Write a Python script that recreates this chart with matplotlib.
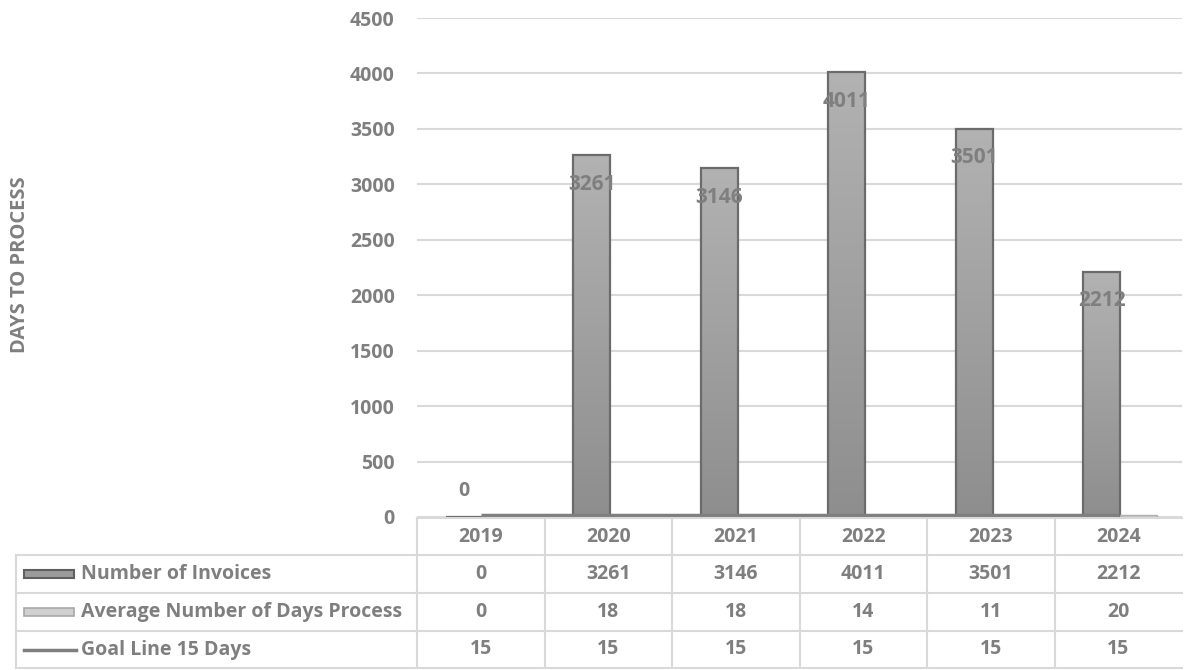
import numpy as np
import matplotlib
matplotlib.use('Agg')
import matplotlib.pyplot as plt
from matplotlib.patches import Rectangle
from matplotlib.lines import Line2D
from matplotlib.colors import LinearSegmentedColormap
import matplotlib.transforms as mtrans

plt.rcParams['font.family'] = ['Open Sans', 'DejaVu Sans']
plt.rcParams['font.weight'] = 'bold'

years = ['2019', '2020', '2021', '2022', '2023', '2024']
invoices = [0, 3261, 3146, 4011, 3501, 2212]
avg_days = [0, 18, 18, 14, 11, 20]
goal = [15, 15, 15, 15, 15, 15]
series_names = ['Number of Invoices', 'Average Number of Days Process', 'Goal Line 15 Days']

GRAY = '#7f7f7f'
GRID = '#d9d9d9'
W, H = 1187, 670
FS = 14

fig = plt.figure(figsize=(W / 100, H / 100), dpi=100)

def fx(px):
    return px / W

def fy(py):
    return 1 - py / H

ax_left, ax_right, ax_top, ax_bot = 417, 1182, 18, 517
ax = fig.add_axes([fx(ax_left), fy(ax_bot), fx(ax_right - ax_left), fy(ax_top) - fy(ax_bot)])
ax.set_yticks(range(0, 4501, 500))
ax.yaxis.grid(True, color=GRID, linewidth=1.5)
ax.set_axisbelow(True)
for s in ax.spines.values():
    s.set_visible(False)
ax.tick_params(axis='y', length=0, pad=16, labelsize=FS, labelcolor=GRAY)
ax.tick_params(axis='x', length=0, labelbottom=False)
for lab in ax.get_yticklabels():
    lab.set_fontweight('bold')

x = np.arange(len(years))
bw = 0.29
x1 = x - 0.275 + bw / 2
x2 = x + 0.015 + bw / 2

# gradient fill for the invoice bars
grad = np.linspace(0, 1, 256).reshape(-1, 1)
cmap = LinearSegmentedColormap.from_list('g', ['#8e8e8e', '#b2b2b2'])
bars1 = ax.bar(x1, invoices, width=bw, color='none', edgecolor='#6b6b6b', linewidth=1.6, zorder=3)
for b in bars1:
    if b.get_height() <= 0:
        continue
    bx, by = b.get_x(), b.get_y()
    im = ax.imshow(grad, extent=[bx, bx + b.get_width(), by, by + b.get_height()],
                   origin='lower', cmap=cmap, aspect='auto', zorder=2.5)
    im.set_clip_path(b)
ax.set_xlim(-0.5, len(years) - 0.5)
ax.set_ylim(0, 4500)

ax.bar(x2, avg_days, width=bw, color='#d0d0d0', edgecolor='#b0b0b0', linewidth=1.0, zorder=3)
ax.plot(x, goal, color=GRAY, linewidth=2.5, zorder=4, solid_capstyle='butt')

for xi, v in zip(x1, invoices):
    if v > 0:
        ax.annotate(str(v), (xi, v), xytext=(0, -21), textcoords='offset points',
                    ha='center', va='center', fontsize=15, color=GRAY, fontweight='bold', zorder=5)
    else:
        ax.annotate(str(v), (xi, v), xytext=(0, 19), textcoords='offset points',
                    ha='center', va='center', fontsize=FS, color=GRAY, fontweight='bold', zorder=5)

fig.text(fx(20), fy(265), 'DAYS TO PROCESS', rotation=90, ha='center', va='center',
         fontsize=14.5, color=GRAY, fontweight='bold')

# data table under the chart
rows = [518, 555, 593, 631, 668]
tab_left = 16
blend = mtrans.blended_transform_factory(ax.transData, fig.transFigure)
lkw = dict(color=GRID, linewidth=1.5, clip_on=False)
fig.add_artist(Line2D([fx(ax_left), fx(ax_right)], [fy(rows[0])] * 2, **lkw))
for r in rows[1:]:
    fig.add_artist(Line2D([fx(tab_left), fx(ax_right)], [fy(r)] * 2, **lkw))
fig.add_artist(Line2D([fx(tab_left)] * 2, [fy(rows[1]), fy(rows[-1])], **lkw))
for b in np.arange(len(years)) - 0.5:
    fig.add_artist(Line2D([b, b], [fy(rows[0]), fy(rows[-1])], transform=blend, **lkw))

row_vals = [invoices, avg_days, goal]
for i, yr in enumerate(years):
    fig.text(i, fy((rows[0] + rows[1]) / 2), yr, transform=blend, ha='center', va='center',
             fontsize=FS, color=GRAY, fontweight='bold')
    for r, vals in enumerate(row_vals):
        fig.text(i, fy((rows[r + 1] + rows[r + 2]) / 2), str(vals[i]), transform=blend,
                 ha='center', va='center', fontsize=FS, color=GRAY, fontweight='bold')

for r, name in enumerate(series_names):
    yc = (rows[r + 1] + rows[r + 2]) / 2
    fig.text(fx(81), fy(yc), name, ha='left', va='center', fontsize=FS, color=GRAY, fontweight='bold')

# legend keys
k1 = (rows[1] + rows[2]) / 2
fig.add_artist(Rectangle((fx(24), fy(k1 + 4)), fx(50), fy(k1 - 4) - fy(k1 + 4),
                         facecolor='#9a9a9a', edgecolor='#5f5f5f', linewidth=1.5))
k2 = (rows[2] + rows[3]) / 2
fig.add_artist(Rectangle((fx(24), fy(k2 + 4)), fx(50), fy(k2 - 4) - fy(k2 + 4),
                         facecolor='#d0d0d0', edgecolor='#a8a8a8', linewidth=1.2))
k3 = (rows[3] + rows[4]) / 2
fig.add_artist(Line2D([fx(24), fx(76)], [fy(k3)] * 2, color=GRAY, linewidth=2.5))

fig.savefig('out.png', dpi=100)
